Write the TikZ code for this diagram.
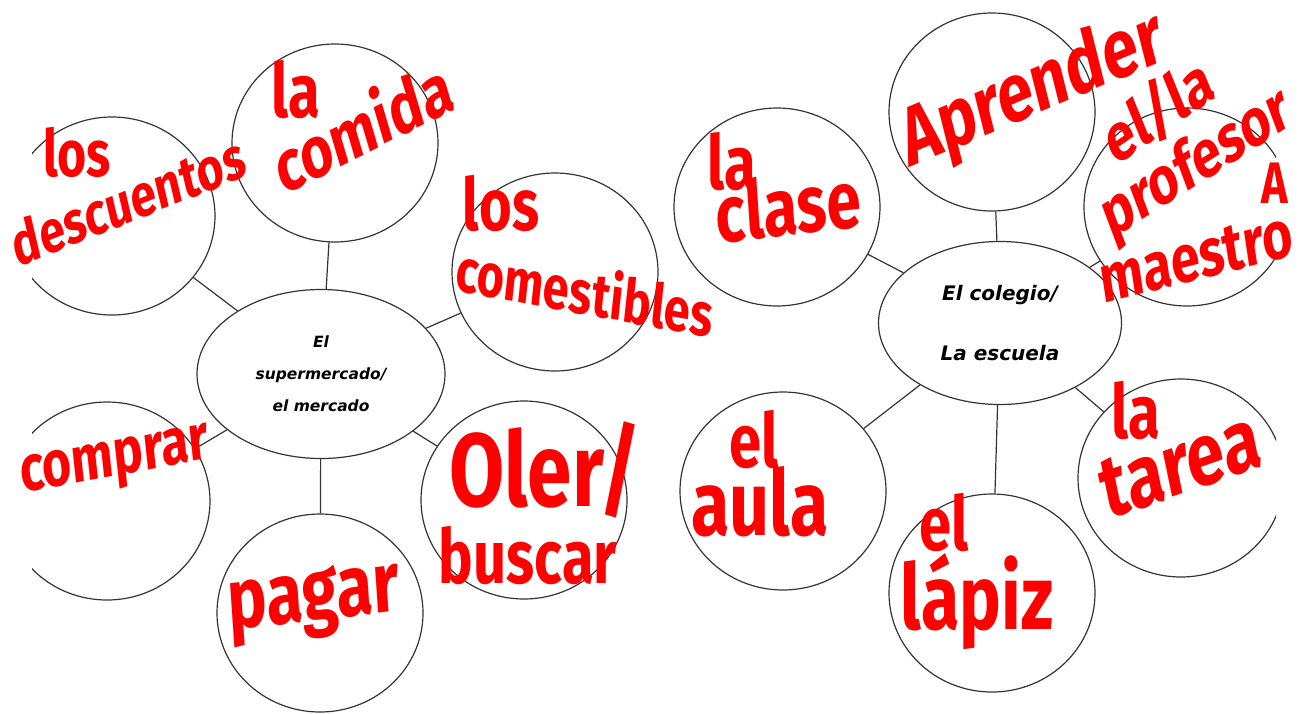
\documentclass[tikz,border=0pt]{standalone}
\usepackage{fontspec}
\usetikzlibrary{shapes.geometric}
\newfontfamily\manofont{Fira Sans}
\newfontfamily\centrofont{DejaVu Sans}

\begin{document}
\begin{tikzpicture}[x=1pt,y=-1pt,
    burbuja/.style={draw=black!80, line width=1.2pt, ellipse, inner sep=0pt,
      minimum width=206pt, minimum height=198pt},
    centro/.style={draw=black!80, line width=1.2pt, ellipse, inner sep=0pt,
      align=center, font=\centrofont\bfseries\itshape},
    enlace/.style={draw=black!80, line width=1.2pt},
    mano/.style={red, inner sep=0pt, yscale=1.3,
      font=\manofont\bfseries\fontsize{#1}{#1}\selectfont}]
  \useasboundingbox (0,0) rectangle (1312,713);

  % Mapa 1: el supermercado
  \node[centro, minimum width=248pt, minimum height=169pt,
    font=\centrofont\bfseries\itshape\fontsize{15.5}{32}\selectfont]
    (super) at (321,374) {El\\supermercado/\\el mercado};

  % Mapa 2: el colegio
  \node[centro, minimum width=243pt, minimum height=163pt,
    font=\centrofont\bfseries\itshape\fontsize{20}{60}\selectfont]
    (colegio) at (1000,323) {El colegio/\\La escuela};

  % Burbujas (las de los bordes salen cortadas)
  \begin{scope}
    \clip (32,0) rectangle (1276,713);
    \node[burbuja] (descuentos)  at (112,216) {};
    \node[burbuja] (comida)      at (335,143) {};
    \node[burbuja] (comestibles) at (555,272) {};
    \node[burbuja] (comprar)     at (107,501) {};
    \node[burbuja] (pagar)       at (320,613) {};
    \node[burbuja] (oler)        at (524,500) {};

    \node[burbuja] (clase)       at (777,207) {};
    \node[burbuja] (aprender)    at (992,112) {};
    \node[burbuja] (profesor)    at (1187,207) {};
    \node[burbuja] (aula)        at (783,491) {};
    \node[burbuja] (lapiz)       at (992,593) {};
    \node[burbuja] (tarea)       at (1181,478) {};
  \end{scope}

  % Enlaces
  \foreach \b in {descuentos,comida,comestibles,comprar,pagar,oler}
    \draw[enlace] (super) -- (\b);
  \foreach \b in {clase,aprender,profesor,aula,lapiz,tarea}
    \draw[enlace] (colegio) -- (\b);

  % Escritura a mano (rojo)
  \node[mano=50] (e-los1) at (77,152) {los};
  \node[mano=46, rotate=17] (e-descuentos) at (128,200) {descuentos};
  \node[mano=58] (e-la1) at (296,90) {la};
  \node[mano=56, rotate=21] (e-comida) at (362,125) {comida};
  \node[mano=56] (e-los2) at (501,203) {los};
  \node[mano=47, rotate=-8] (e-comestibles) at (585,290) {comestibles};
  \node[mano=50, rotate=8] (e-comprar) at (115,465) {comprar};
  \node[mano=66, rotate=5] (e-pagar) at (314,603) {pagar};
  \node[mano=80] (e-oler) at (545,470) {Oler/};
  \node[mano=58] (e-buscar) at (528,556) {buscar};

  \node[mano=58] (e-la2) at (732,162) {la};
  \node[mano=62, rotate=5] (e-clase) at (788,205) {clase};
  \node[mano=64, rotate=18] (e-aprender) at (1033,92) {Aprender};
  \node[mano=52, rotate=28] (e-ella) at (1158,110) {el/la};
  \node[mano=52, rotate=26] (e-profesor) at (1197,165) {profesor};
  \node[mano=45] (e-a) at (1275,183) {A};
  \node[mano=52, rotate=11] (e-maestro) at (1196,258) {maestro};
  \node[mano=58] (e-el1) at (754,440) {el};
  \node[mano=70] (e-aula) at (760,502) {aula};
  \node[mano=58] (e-el2) at (944,523) {el};
  \node[mano=70] (e-lapiz) at (977,602) {lápiz};
  \node[mano=58] (e-la3) at (1136,411) {la};
  \node[mano=68, rotate=15] (e-tarea) at (1180,465) {tarea};
\end{tikzpicture}
\end{document}
